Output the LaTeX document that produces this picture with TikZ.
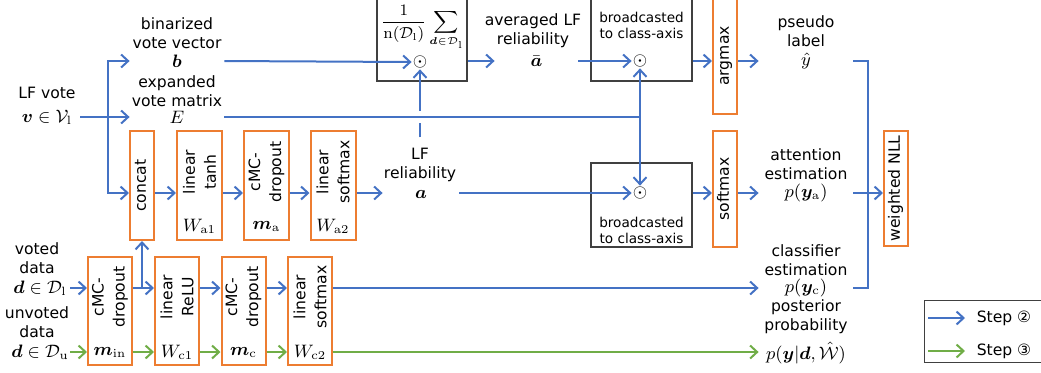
\documentclass[tikz,border=0pt]{standalone}
\usepackage{amsmath,bm}
\usepackage[no-math]{fontspec}
\setmainfont{DejaVu Sans}
\usepackage{graphicx}
\usetikzlibrary{arrows.meta}
\definecolor{stepblue}{HTML}{4472C4}
\definecolor{stepgreen}{HTML}{70AD47}
\definecolor{layerorange}{HTML}{ED7D31}
\definecolor{opgray}{HTML}{404040}
\newcommand{\vt}[1]{\rotatebox{90}{\begin{tabular}{@{}c@{}}#1\end{tabular}}}
\tikzset{
  every node/.style={font=\fontsize{7.8}{9.5}\selectfont, inner sep=0pt},
  tx/.style={align=center},
  mth/.style={font=\fontsize{9}{10}\selectfont},
  layer/.style={draw=layerorange, line width=1pt, minimum height=54.5pt},
  opbox/.style={draw=opgray, line width=0.6pt, minimum width=50.5pt},
  small/.style={font=\fontsize{6.8}{8}\selectfont, align=center},
  vtxt/.style={rotate=90, align=center, font=\fontsize{7.8}{10.5}\selectfont},
  dot/.style={inner sep=0.4pt, font=\fontsize{9}{10}\selectfont},
  tip/.style={-{Straight Barb[length=3.5pt,width=6.5pt]}},
  flowA/.style={draw=stepblue, line width=1pt},
  flowB/.style={draw=stepgreen, line width=1pt},
}
\begin{document}
\begin{tikzpicture}[x=0.5pt,y=-0.5pt]
  \clip (0,0) rectangle (1041,372);

  % inputs
  \node (vvote-t) at (47,93) {LF vote};
  \node[mth, minimum width=33pt] (vvote) at (47,117) {$\bm{v}\in\mathcal{V}_{\mathrm{l}}$};
  \node[tx] (voted-t) at (37,258) {voted\\data};
  \node[mth, minimum width=30pt] (voted) at (40,288) {$\bm{d}\in\mathcal{D}_{\mathrm{l}}$};
  \node[tx] (unvoted-t) at (37,322) {unvoted\\data};
  \node[mth, minimum width=30pt] (unvoted) at (40,352) {$\bm{d}\in\mathcal{D}_{\mathrm{u}}$};

  \node[tx] (bvec-t) at (177,33.5) {binarized\\vote vector};
  \node[mth, minimum width=47pt] (bvec) at (177,61) {$\bm{b}$};
  \node[tx] (evec-t) at (177,91) {expanded\\vote matrix};
  \node[mth, minimum width=47pt] (evec) at (177,117) {$E$};

  % attention branch
  \node[layer, minimum width=12pt] (concat) at (142,185.5) {\vt{concat}};
  \foreach \n/\x/\t/\l in {tanh/199.5/{linear\\tanh}/{W_{\mathrm{a1}}},
      dropA/266.5/{cMC-\\dropout}/{\bm{m}_{\mathrm{a}}},
      smA/333/{linear\\softmax}/{W_{\mathrm{a2}}}}{
    \node[layer, minimum width=22.5pt] (\n) at (\x,185.5) {};
    \node[vtxt] (\n-t) at (\x,172) {\t};
    \node[mth] (\n-l) at (\x,226) {$\l$};
  }
  \node[tx] (relA-t) at (420,164.5) {LF\\reliability};
  \node[mth, minimum width=38pt] (relA) at (421,194) {$\bm{a}$};

  % classifier branch
  \foreach \n/\x/\t/\l in {dropIn/110/{cMC-\\dropout}/{\bm{m}_{\mathrm{in}}},
      relu/177/{linear\\ReLU}/{W_{\mathrm{c1}}},
      dropC/243.5/{cMC-\\dropout}/{\bm{m}_{\mathrm{c}}},
      smC/310/{linear\\softmax}/{W_{\mathrm{c2}}}}{
    \node[layer, minimum width=22pt, minimum height=54pt] (\n) at (\x,311) {};
    \node[vtxt] (\n-t) at (\x,297) {\t};
    \node[mth] (\n-l) at (\x,352) {$\l$};
  }

  % averaging and broadcasting
  \node[opbox, minimum width=45pt, minimum height=50.5pt] (sumbox) at (422,30.5) {};
  \node[font=\fontsize{7.8}{9.5}\selectfont] (sum-t) at (422,28) {$\displaystyle\frac{1}{\mathrm{n}(\mathcal{D}_{\mathrm{l}})}\sum_{\bm{d}\in\mathcal{D}_{\mathrm{l}}}$};
  \node[dot] (dotA) at (420,62) {$\odot$};
  \node[tx] (abar-t) at (533,31) {averaged LF\\reliability};
  \node[mth, minimum width=41.5pt] (abar) at (536.5,61) {$\bar{\bm{a}}$};

  \node[opbox, minimum height=50.5pt] (bcA) at (641.5,30.5) {};
  \node[small] (bcA-t) at (641.5,25) {broadcasted\\to class-axis};
  \node[dot] (dotB) at (640,61) {$\odot$};
  \node[opbox, minimum height=42pt] (bcB) at (641.5,205) {};
  \node[small] (bcB-t) at (641.5,230) {broadcasted\\to class-axis};
  \node[dot] (dotC) at (640,193) {$\odot$};

  \node[layer, minimum width=12pt, minimum height=58pt] (argmax) at (725,56) {\vt{argmax}};
  \node[layer, minimum width=12pt, minimum height=58pt] (softmax) at (725,189) {\vt{softmax}};

  % outputs
  \node[tx] (yhat-t) at (806,31) {pseudo\\label};
  \node[mth, minimum width=47pt] (yhat) at (806,61) {$\hat{y}$};
  \node[tx] (att-t) at (806,164) {attention\\estimation};
  \node[mth, minimum width=47pt] (att) at (806,193) {$p(\bm{y}_{\mathrm{a}})$};
  \node[tx] (cls-t) at (806,260.5) {classifier\\estimation};
  \node[mth, minimum width=47pt] (cls) at (806,288) {$p(\bm{y}_{\mathrm{c}})$};
  \node[tx] (post-t) at (806,317) {posterior\\probability};
  \node[mth, minimum width=47pt] (post) at (806,353) {$p(\bm{y}|\bm{d},\hat{\mathcal{W}})$};
  \node[layer, minimum width=12pt, minimum height=57.5pt] (nll) at (896,188.5) {\vt{weighted NLL}};

  % step 2
  \coordinate (split) at (108,117);
  \coordinate (rowA) at (0,193);
  \coordinate (jE) at (640,117);
  \coordinate (jN) at (868,193);
  \draw[flowA,tip] (vvote.east) -- (evec.west);
  \draw[flowA,tip] (split) |- (bvec.west);
  \draw[flowA,tip] (split) |- (concat.west |- rowA);
  \draw[flowA,tip] (bvec.east) -- (dotA.west);
  \draw[flowA,tip,shorten <=5pt] (relA-t.north) -- (dotA.south);
  \draw[flowA,preaction={draw=white,line width=6pt}] (evec.east) -- (jE);
  \draw[flowA,tip] (jE) -- (dotB.south);
  \draw[flowA,tip] (jE) -- (dotC.north);
  \draw[flowA,tip] (sumbox.east |- bvec) -- (abar.west);
  \draw[flowA,tip] (abar.east) -- (dotB.west);
  \draw[flowA,tip] (bcA.east |- dotB) -- (argmax.west |- dotB);
  \draw[flowA,tip] (argmax.east |- dotB) -- (yhat.west);
  \foreach \a/\b in {concat/tanh, tanh/dropA, dropA/smA}
    \draw[flowA,tip] (\a.east |- rowA) -- (\b.west |- rowA);
  \draw[flowA,tip] (smA.east |- rowA) -- (relA.west |- rowA);
  \draw[flowA,tip] (relA.east |- rowA) -- (dotC.west);
  \draw[flowA,tip] (bcB.east |- dotC) -- (softmax.west |- dotC);
  \draw[flowA,tip] (softmax.east |- dotC) -- (att.west);
  \draw[flowA,tip] (voted.east) -- (dropIn.west |- voted);
  \foreach \a/\b in {dropIn/relu, relu/dropC, dropC/smC}
    \draw[flowA,tip] (\a.east |- voted) -- (\b.west |- voted);
  \draw[flowA,tip] (concat.south |- voted) -- (concat.south);
  \draw[flowA,tip] (smC.east |- voted) -- (cls.west);
  \draw[flowA] (yhat.east) -| (jN);
  \draw[flowA] (cls.east) -| (jN);
  \draw[flowA,tip] (att.east) -- (nll.west |- att);

  % step 3
  \draw[flowB,tip] (unvoted.east) -- (dropIn.west |- unvoted);
  \foreach \a/\b in {dropIn/relu, relu/dropC, dropC/smC}
    \draw[flowB,tip] (\a.east |- unvoted) -- (\b.west |- unvoted);
  \draw[flowB,tip] (smC.east |- unvoted) -- (post.west |- unvoted);

  % legend
  \node[draw=opgray, line width=0.6pt, minimum width=62pt, minimum height=31pt, anchor=north west] (legend) at (924,300) {};
  \coordinate (lgA0) at (928,318);
  \coordinate (lgA1) at (965,318);
  \coordinate (lgB0) at (928,351);
  \coordinate (lgB1) at (965,351);
  \draw[flowA,tip] (lgA0) -- (lgA1);
  \draw[flowB,tip] (lgB0) -- (lgB1);
  \node (lgA-t) at (1004,318) {Step ②};
  \node (lgB-t) at (1004,351) {Step ③};
\end{tikzpicture}
\end{document}
